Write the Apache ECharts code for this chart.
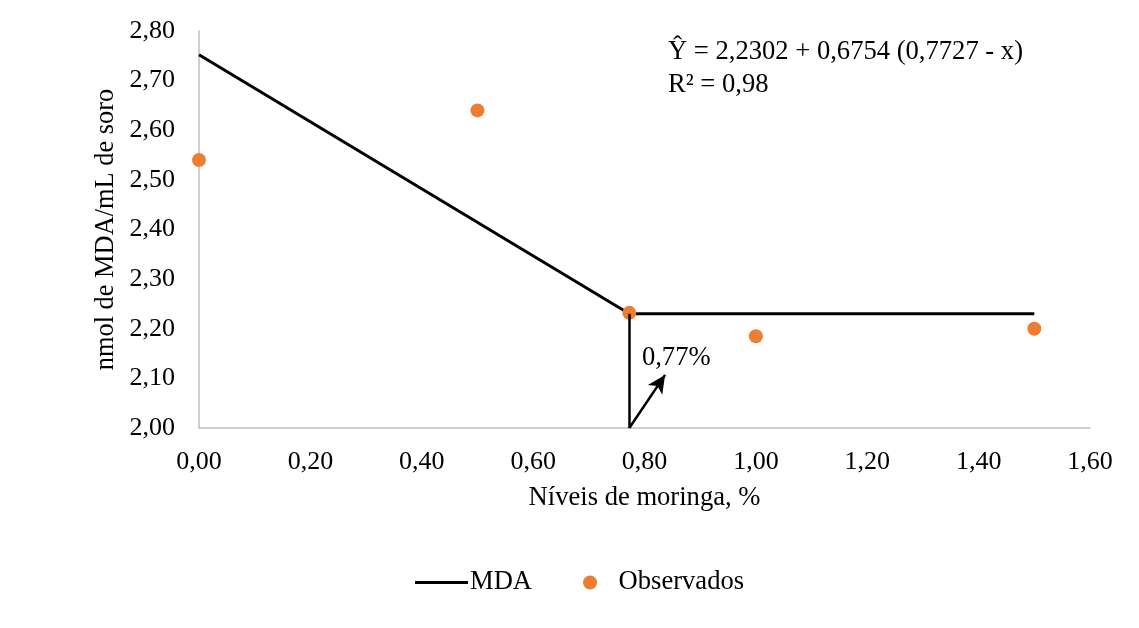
<!DOCTYPE html>
<html><head><meta charset="utf-8">
<script src="https://cdn.jsdelivr.net/npm/echarts@6/dist/echarts.min.js"></script>
<style>html,body{margin:0;padding:0;background:#fff}#c{width:1139px;height:628px}</style>
</head><body><div id="c"></div>
<script>
// Model line: Ŷ = 2.2302 + 0.6754 (0.7727 - x), plateau after breakpoint
const lineX = [0, 0.7727, 1.5];
const lineY = [2.7521, 2.2302, 2.2302];
const obsX = [0, 0.5, 0.7727, 1.0, 1.5];
const obsY = [2.54, 2.64, 2.232, 2.185, 2.20];
const breakX = 0.7727;
const arrowEnd = [0.837, 2.107];
const labelPos = [0.857, 2.142];
const xTicks = {min: 0, max: 1.6, interval: 0.2};
const yTicks = {min: 2.0, max: 2.8, interval: 0.1};

const FONT = '"Liberation Serif", "Times New Roman", serif';
const FS = 26.6;
const fmt = v => v.toFixed(2).replace('.', ',');
const chart = echarts.init(document.getElementById('c'));
chart.setOption({
  animation: false,
  textStyle: {fontFamily: FONT},
  grid: {left: 199, right: 49, top: 31, bottom: 200},
  xAxis: {
    type: 'value', min: xTicks.min, max: xTicks.max, interval: xTicks.interval,
    name: 'Níveis de moringa, %', nameLocation: 'middle', nameGap: 57,
    nameTextStyle: {fontFamily: FONT, fontSize: FS, color: '#000'},
    axisLine: {show: true, lineStyle: {color: '#bfbfbf', width: 1.5}},
    axisTick: {show: false}, splitLine: {show: false},
    axisLabel: {fontFamily: FONT, fontSize: 26, color: '#000', margin: 21, formatter: fmt}
  },
  yAxis: {
    type: 'value', min: yTicks.min, max: yTicks.max, interval: yTicks.interval,
    name: 'nmol de MDA/mL de soro', nameLocation: 'middle', nameGap: 65,
    nameTextStyle: {fontFamily: FONT, fontSize: 26.4, color: '#000'},
    axisLine: {show: true, lineStyle: {color: '#bfbfbf', width: 1.5}},
    axisTick: {show: false}, splitLine: {show: false},
    axisLabel: {fontFamily: FONT, fontSize: 26, color: '#000', margin: 24, formatter: fmt}
  },
  legend: {
    bottom: 27, left: 410, itemGap: 51, itemWidth: 53, itemHeight: 14,
    textStyle: {fontFamily: FONT, fontSize: FS, color: '#000', padding: [0,0,0,-3]},
    data: [
      {name: 'MDA', icon: 'path://M0,0 L53,0 L53,3 L0,3 Z'},
      {name: 'Observados', icon: 'circle'}
    ]
  },
  series: [
    {
      name: 'MDA', type: 'line', symbol: 'none',
      data: lineX.map((x, i) => [x, lineY[i]]),
      lineStyle: {color: '#000', width: 3}, itemStyle: {color: '#000'},
      z: 2,
      markLine: {
        silent: true, symbol: ['none', 'none'], animation: false,
        lineStyle: {color: '#000', width: 2.5, type: 'solid'},
        label: {show: false},
        data: [
          [{coord: [breakX, yTicks.min]}, {coord: [breakX, lineY[1]]}],
          [{coord: [breakX, yTicks.min], symbol: 'none'}, {coord: arrowEnd, symbol: 'arrow', symbolSize: [13, 18]}]
        ]
      },
      markPoint: {
        silent: true, symbol: 'circle', symbolSize: 0,
        label: {show: true, formatter: '0,77%', fontFamily: FONT, fontSize: FS, color: '#000'},
        data: [{coord: labelPos}]
      }
    },
    {
      name: 'Observados', type: 'scatter', symbol: 'circle', symbolSize: 14,
      data: obsX.map((x, i) => [x, obsY[i]]),
      itemStyle: {color: '#ED7D31', opacity: 1}, z: 3
    }
  ],
  graphic: [
    {type: 'text', left: 668, top: 39, style: {text: 'Ŷ = 2,2302 + 0,6754 (0,7727 - x)', font: FS + 'px ' + FONT, fill: '#000'}},
    {type: 'text', left: 668, top: 72, style: {text: 'R² = 0,98', font: FS + 'px ' + FONT, fill: '#000'}}
  ]
});
</script></body></html>
